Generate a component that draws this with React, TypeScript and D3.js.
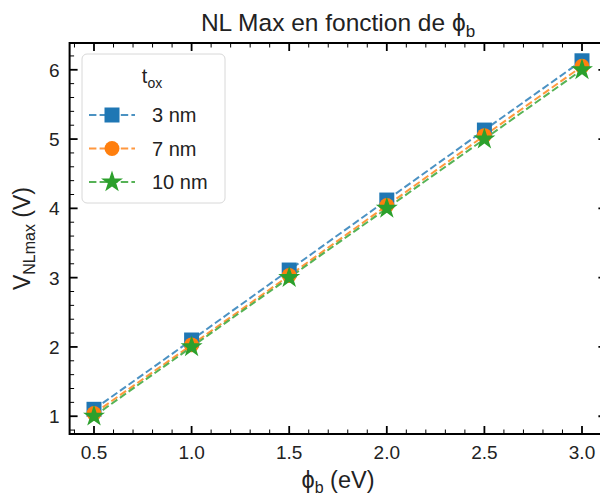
import React from "react";
import * as d3 from "d3";

const phiB = [0.5, 1.0, 1.5, 2.0, 2.5, 3.0];
const seriesNames = ["3 nm", "7 nm", "10 nm"];
const v3nm = [1.10, 2.10, 3.11, 4.12, 5.13, 6.13];
const v7nm = [1.04, 2.03, 3.03, 4.04, 5.05, 6.05];
const v10nm = [1.0, 2.0, 3.0, 4.0, 5.0, 6.0];
const xTicks = [0.5, 1.0, 1.5, 2.0, 2.5, 3.0];
const yTicks = [1, 2, 3, 4, 5, 6];

const colors = ["#1f77b4", "#ff7f0e", "#2ca02c"];
const shapes = [d3.symbolSquare, d3.symbolCircle, d3.symbolStar];
const sizes = [225, 175, 150];

const W = 600, H = 496;
const FONT = "'Liberation Sans', Arial, sans-serif";

export default function App() {
  const series = [v3nm, v7nm, v10nm];
  const allY = series.flat();
  const ymin = d3.min(allY)!, ymax = d3.max(allY)!;
  const ypad = (ymax - ymin) * 0.05;
  const xpad = (3.0 - 0.5) * 0.05;
  const x = d3.scaleLinear().domain([0.5 - xpad, 3.0 + xpad]).range([69.6, 606.4]);
  const y = d3.scaleLinear().domain([ymin - ypad, ymax + ypad]).range([434, 43]);
  const [x0, x1] = x.range();
  const [y0, y1] = y.range();

  const xMinor = d3.range(4, 32).map((v) => v / 10).filter((v) => v >= x.domain()[0] && v <= x.domain()[1] && Math.abs(v * 2 - Math.round(v * 2)) > 1e-6);
  const yMinor = d3.range(4, 33).map((v) => v / 5).filter((v) => v >= y.domain()[0] && v <= y.domain()[1] && Math.abs(v - Math.round(v)) > 1e-6);

  const line = d3.line<number>().x((_, i) => x(phiB[i])).y((d) => y(d));
  const MAJ = 8, MIN = 4.5;

  return (
    <svg width={W} height={H} style={{ position: "absolute", left: 0, top: 0, background: "#fff" }} fontFamily={FONT}>
      <rect x={0} y={0} width={W} height={H} fill="#fff" />
      {/* data */}
      <g>
        {series.map((s, k) => (
          <path key={k} d={line(s)!} fill="none" stroke={colors[k]} strokeWidth={2} strokeDasharray="7.4,3.2" opacity={0.8} />
        ))}
        {series.map((s, k) =>
          s.map((v, i) => (
            <path key={`${k}-${i}`} d={d3.symbol(shapes[k], sizes[k])()!} transform={`translate(${x(phiB[i])},${y(v)})`} fill={colors[k]} />
          ))
        )}
      </g>
      {/* ticks */}
      <g stroke="#000">
        {xTicks.map((t) => (
          <g key={t}>
            <line x1={x(t)} x2={x(t)} y1={y0} y2={y0 - MAJ} strokeWidth={1.8} />
            <line x1={x(t)} x2={x(t)} y1={y1} y2={y1 + MAJ} strokeWidth={1.8} />
          </g>
        ))}
        {xMinor.map((t) => (
          <g key={t}>
            <line x1={x(t)} x2={x(t)} y1={y0} y2={y0 - MIN} strokeWidth={1} />
            <line x1={x(t)} x2={x(t)} y1={y1} y2={y1 + MIN} strokeWidth={1} />
          </g>
        ))}
        {yTicks.map((t) => (
          <g key={t}>
            <line x1={x0} x2={x0 + MAJ} y1={y(t)} y2={y(t)} strokeWidth={1.8} />
            <line x1={x1} x2={x1 - MAJ} y1={y(t)} y2={y(t)} strokeWidth={1.8} />
          </g>
        ))}
        {yMinor.map((t) => (
          <g key={t}>
            <line x1={x0} x2={x0 + MIN} y1={y(t)} y2={y(t)} strokeWidth={1} />
            <line x1={x1} x2={x1 - MIN} y1={y(t)} y2={y(t)} strokeWidth={1} />
          </g>
        ))}
      </g>
      {/* spines */}
      <rect x={x0} y={y1} width={x1 - x0} height={y0 - y1} fill="none" stroke="#000" strokeWidth={2} />
      {/* tick labels */}
      <g fontSize={19} fill="#222">
        {xTicks.map((t) => (
          <text key={t} x={x(t)} y={y0 + 25} textAnchor="middle">{t.toFixed(1)}</text>
        ))}
        {yTicks.map((t) => (
          <text key={t} x={x0 - 10} y={y(t) + 7} textAnchor="end">{t}</text>
        ))}
      </g>
      {/* title */}
      <text x={(x0 + x1) / 2} y={31} textAnchor="middle" fontSize={24.5} fill="#222">
        NL Max en fonction de ϕ<tspan fontSize={17} dy={6}>b</tspan>
      </text>
      {/* x label */}
      <text x={(x0 + x1) / 2} y={488} textAnchor="middle" fontSize={23.5} fill="#222">
        ϕ<tspan fontSize={16} dy={5}>b</tspan><tspan dy={-5}> (eV)</tspan>
      </text>
      {/* y label */}
      <text transform={`translate(30,${(y0 + y1) / 2}) rotate(-90)`} textAnchor="middle" fontSize={23} fill="#222">
        V<tspan fontSize={16} dy={5}>NLmax</tspan><tspan dy={-5}> (V)</tspan>
      </text>
      {/* legend */}
      <g>
        <rect x={82} y={54} width={143} height={149} rx={5} fill="#fff" fillOpacity={0.8} stroke="#d8d8d8" strokeWidth={1} />
        <text x={152} y={83} textAnchor="middle" fontSize={20} fill="#222">
          t<tspan fontSize={14} dy={5}>ox</tspan>
        </text>
        {seriesNames.map((n, k) => {
          const ly = 115 + k * 33.5;
          return (
            <g key={n}>
              <line x1={89} x2={135} y1={ly} y2={ly} stroke={colors[k]} strokeWidth={2} strokeDasharray="7.4,3.2" opacity={0.8} />
              <path d={d3.symbol(shapes[k], sizes[k])()!} transform={`translate(112,${ly})`} fill={colors[k]} />
              <text x={152} y={ly + 7} fontSize={20} fill="#222">{n}</text>
            </g>
          );
        })}
      </g>
    </svg>
  );
}
